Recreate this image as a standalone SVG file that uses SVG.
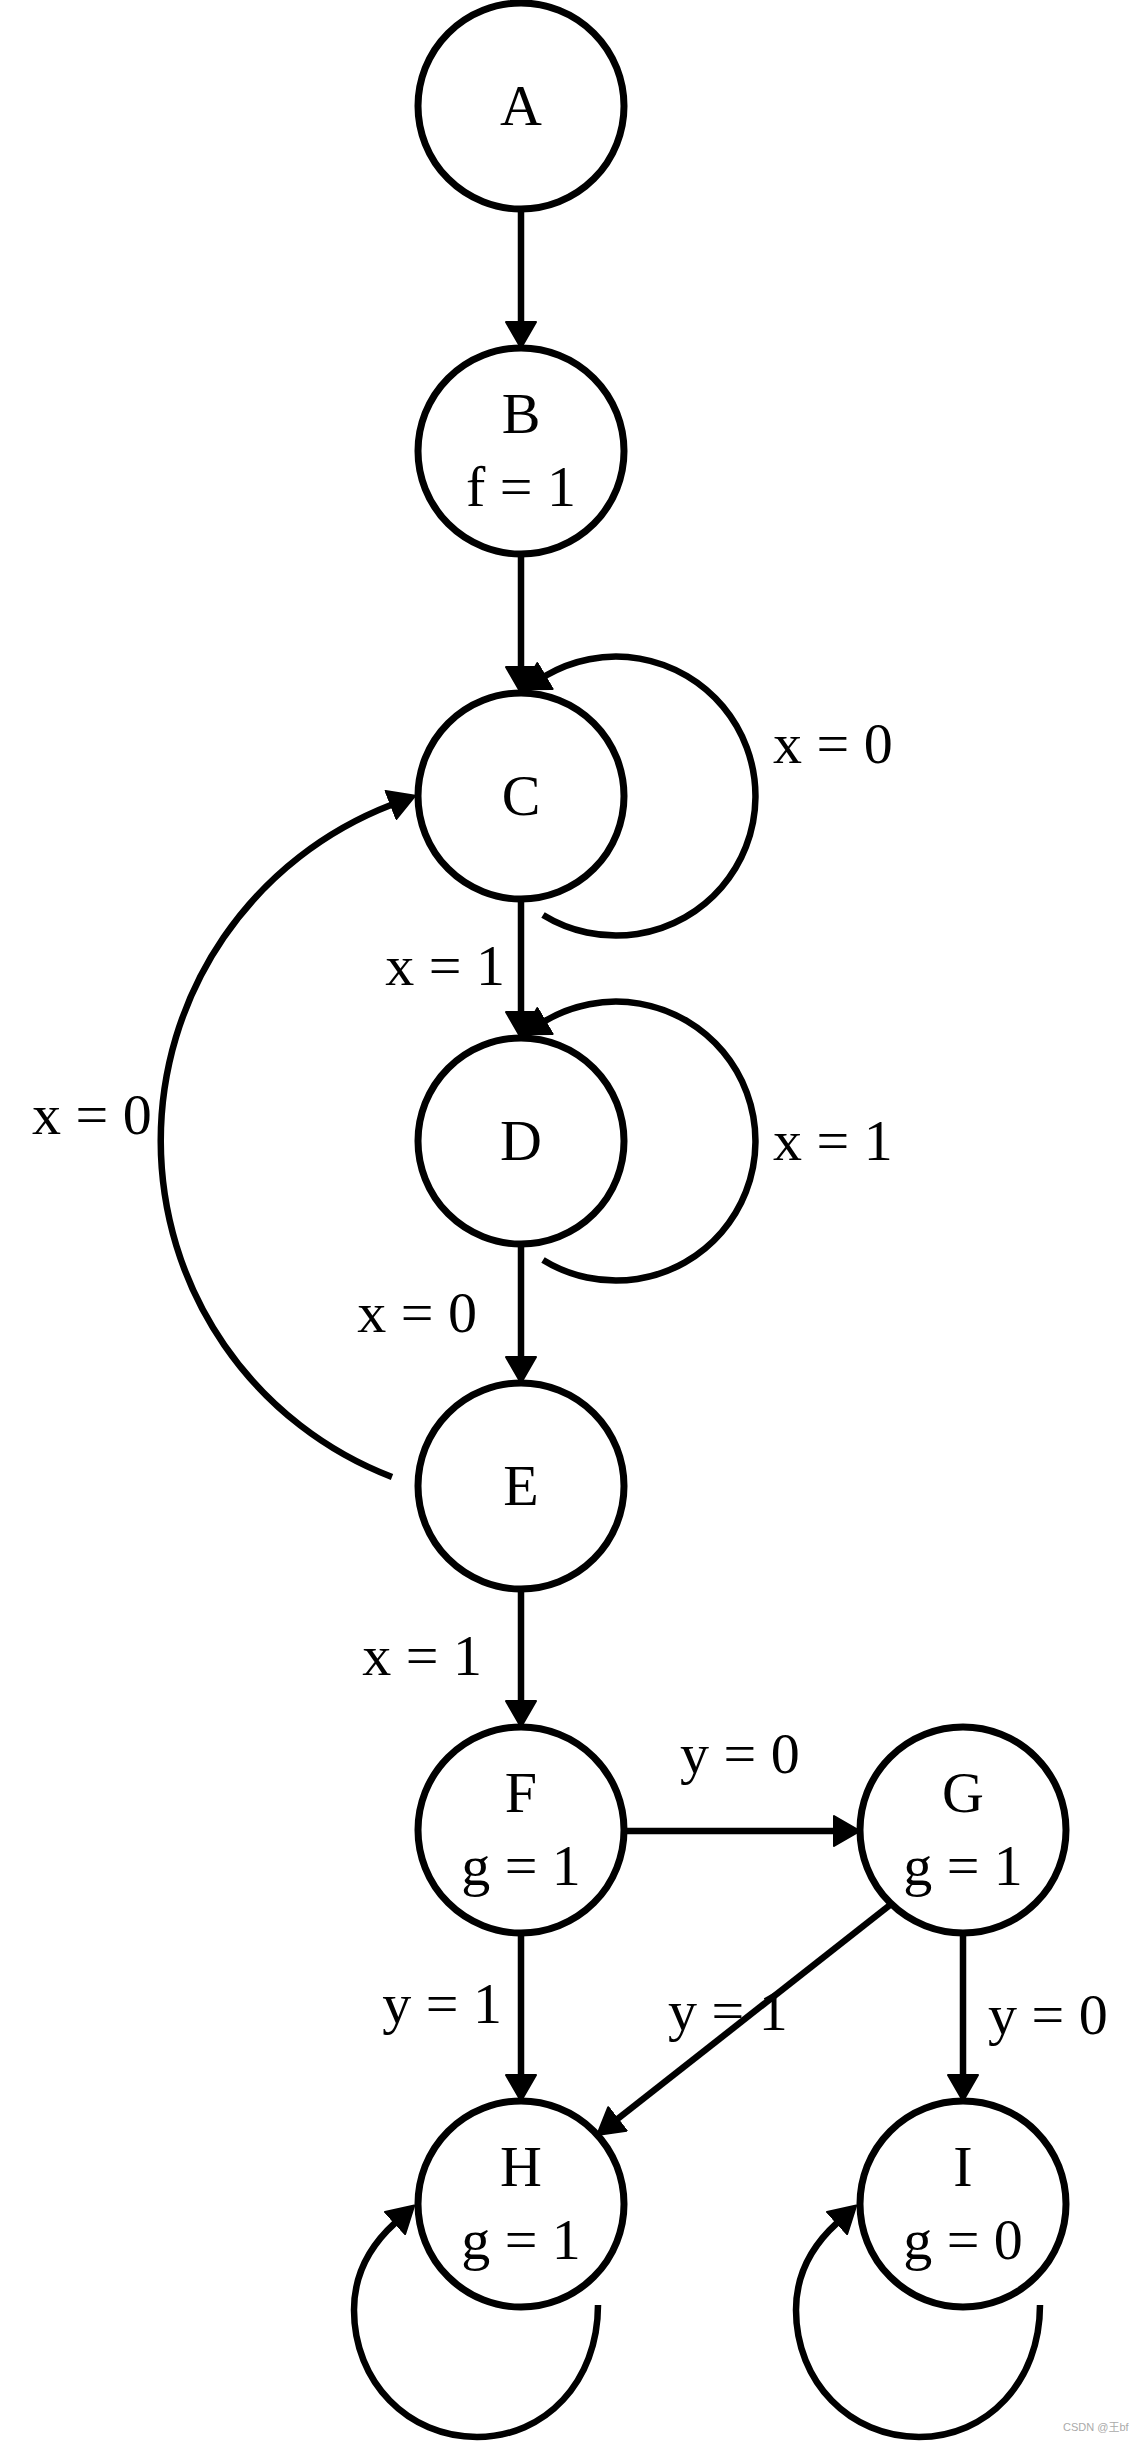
<svg xmlns="http://www.w3.org/2000/svg" width="1139" height="2441" viewBox="0 0 1139 2441">
<style>
.node{fill:#fff;stroke:#000;stroke-width:7}
.edge{fill:none;stroke:#000;stroke-width:6.5;stroke-linecap:butt}
.t{font-family:"Liberation Serif","Times New Roman",serif;font-size:58px;fill:#000}
.c{text-anchor:middle}
.e{text-anchor:end}
.wm{font-family:"Liberation Sans","Noto Sans CJK SC",sans-serif;font-size:11px;fill:#aaa}
</style>
<defs>
<marker id="arr" markerUnits="userSpaceOnUse" viewBox="-1 -1 28 32" markerWidth="28" markerHeight="32" refX="0" refY="15" orient="auto">
<path d="M0,0 L26,15 L0,30 z" fill="#000" stroke="#000" stroke-width="2" stroke-linejoin="round"/>
</marker>
</defs>
<rect width="1139" height="2441" fill="#fff"/>
<g id="connectors">
<path class="edge" d="M521,209 L521,322" marker-end="url(#arr)"/>
<path class="edge" d="M521,554 L521,667" marker-end="url(#arr)"/>
<path class="edge" d="M543,915 A139.5,139.5 0 1 0 545,676" marker-end="url(#arr)"/>
<path class="edge" d="M521,899 L521,1012" marker-end="url(#arr)"/>
<path class="edge" d="M543,1260 A139.5,139.5 0 1 0 545,1021" marker-end="url(#arr)"/>
<path class="edge" d="M521,1244 L521,1357" marker-end="url(#arr)"/>
<path class="edge" d="M392,1477 A360,360 0 0 1 391,805" marker-end="url(#arr)"/>
<path class="edge" d="M521,1589 L521,1701" marker-end="url(#arr)"/>
<path class="edge" d="M624,1831 L834,1831" marker-end="url(#arr)"/>
<path class="edge" d="M521,1933 L521,2075" marker-end="url(#arr)"/>
<path class="edge" d="M963,1933 L963,2075" marker-end="url(#arr)"/>
<path class="edge" d="M890,1905 L617.5,2119" marker-end="url(#arr)"/>
<path class="edge" d="M598,2305 C598,2382 545,2437 477,2437 C408,2437 354,2382 354,2310 C354,2272 373,2243 395,2223" marker-end="url(#arr)"/>
<path class="edge" d="M1040,2305 C1040,2382 987,2437 919,2437 C850,2437 796,2382 796,2310 C796,2272 815,2243 837,2223" marker-end="url(#arr)"/>
</g>
<g id="edge-labels">
<text class="t" x="773" y="763">x = 0</text>
<text class="t e" x="505" y="985">x = 1</text>
<text class="t" x="773" y="1160">x = 1</text>
<text class="t e" x="477" y="1332">x = 0</text>
<text class="t" x="32" y="1134">x = 0</text>
<text class="t e" x="482" y="1675">x = 1</text>
<text class="t" x="680" y="1773">y = 0</text>
<text class="t e" x="502" y="2023">y = 1</text>
<text class="t" x="668" y="2030">y = 1</text>
<text class="t" x="988" y="2034">y = 0</text>
</g>
<g id="A"><circle class="node" cx="521" cy="106" r="103"/><text class="t c" x="521" y="125">A</text></g>
<g id="B"><circle class="node" cx="521" cy="451" r="103"/><text class="t c" x="521" y="433">B</text><text class="t c" x="521" y="506">f = 1</text></g>
<g id="C"><circle class="node" cx="521" cy="796" r="103"/><text class="t c" x="521" y="815">C</text></g>
<g id="D"><circle class="node" cx="521" cy="1141" r="103"/><text class="t c" x="521" y="1160">D</text></g>
<g id="E"><circle class="node" cx="521" cy="1486" r="103"/><text class="t c" x="521" y="1505">E</text></g>
<g id="F"><circle class="node" cx="521" cy="1830" r="103"/><text class="t c" x="521" y="1812">F</text><text class="t c" x="521" y="1885">g = 1</text></g>
<g id="G"><circle class="node" cx="963" cy="1830" r="103"/><text class="t c" x="963" y="1812">G</text><text class="t c" x="963" y="1885">g = 1</text></g>
<g id="H"><circle class="node" cx="521" cy="2204" r="103"/><text class="t c" x="521" y="2186">H</text><text class="t c" x="521" y="2259">g = 1</text></g>
<g id="I"><circle class="node" cx="963" cy="2204" r="103"/><text class="t c" x="963" y="2186">I</text><text class="t c" x="963" y="2259">g = 0</text></g>
<text class="wm" x="1063" y="2431">CSDN @王bf</text>
</svg>
